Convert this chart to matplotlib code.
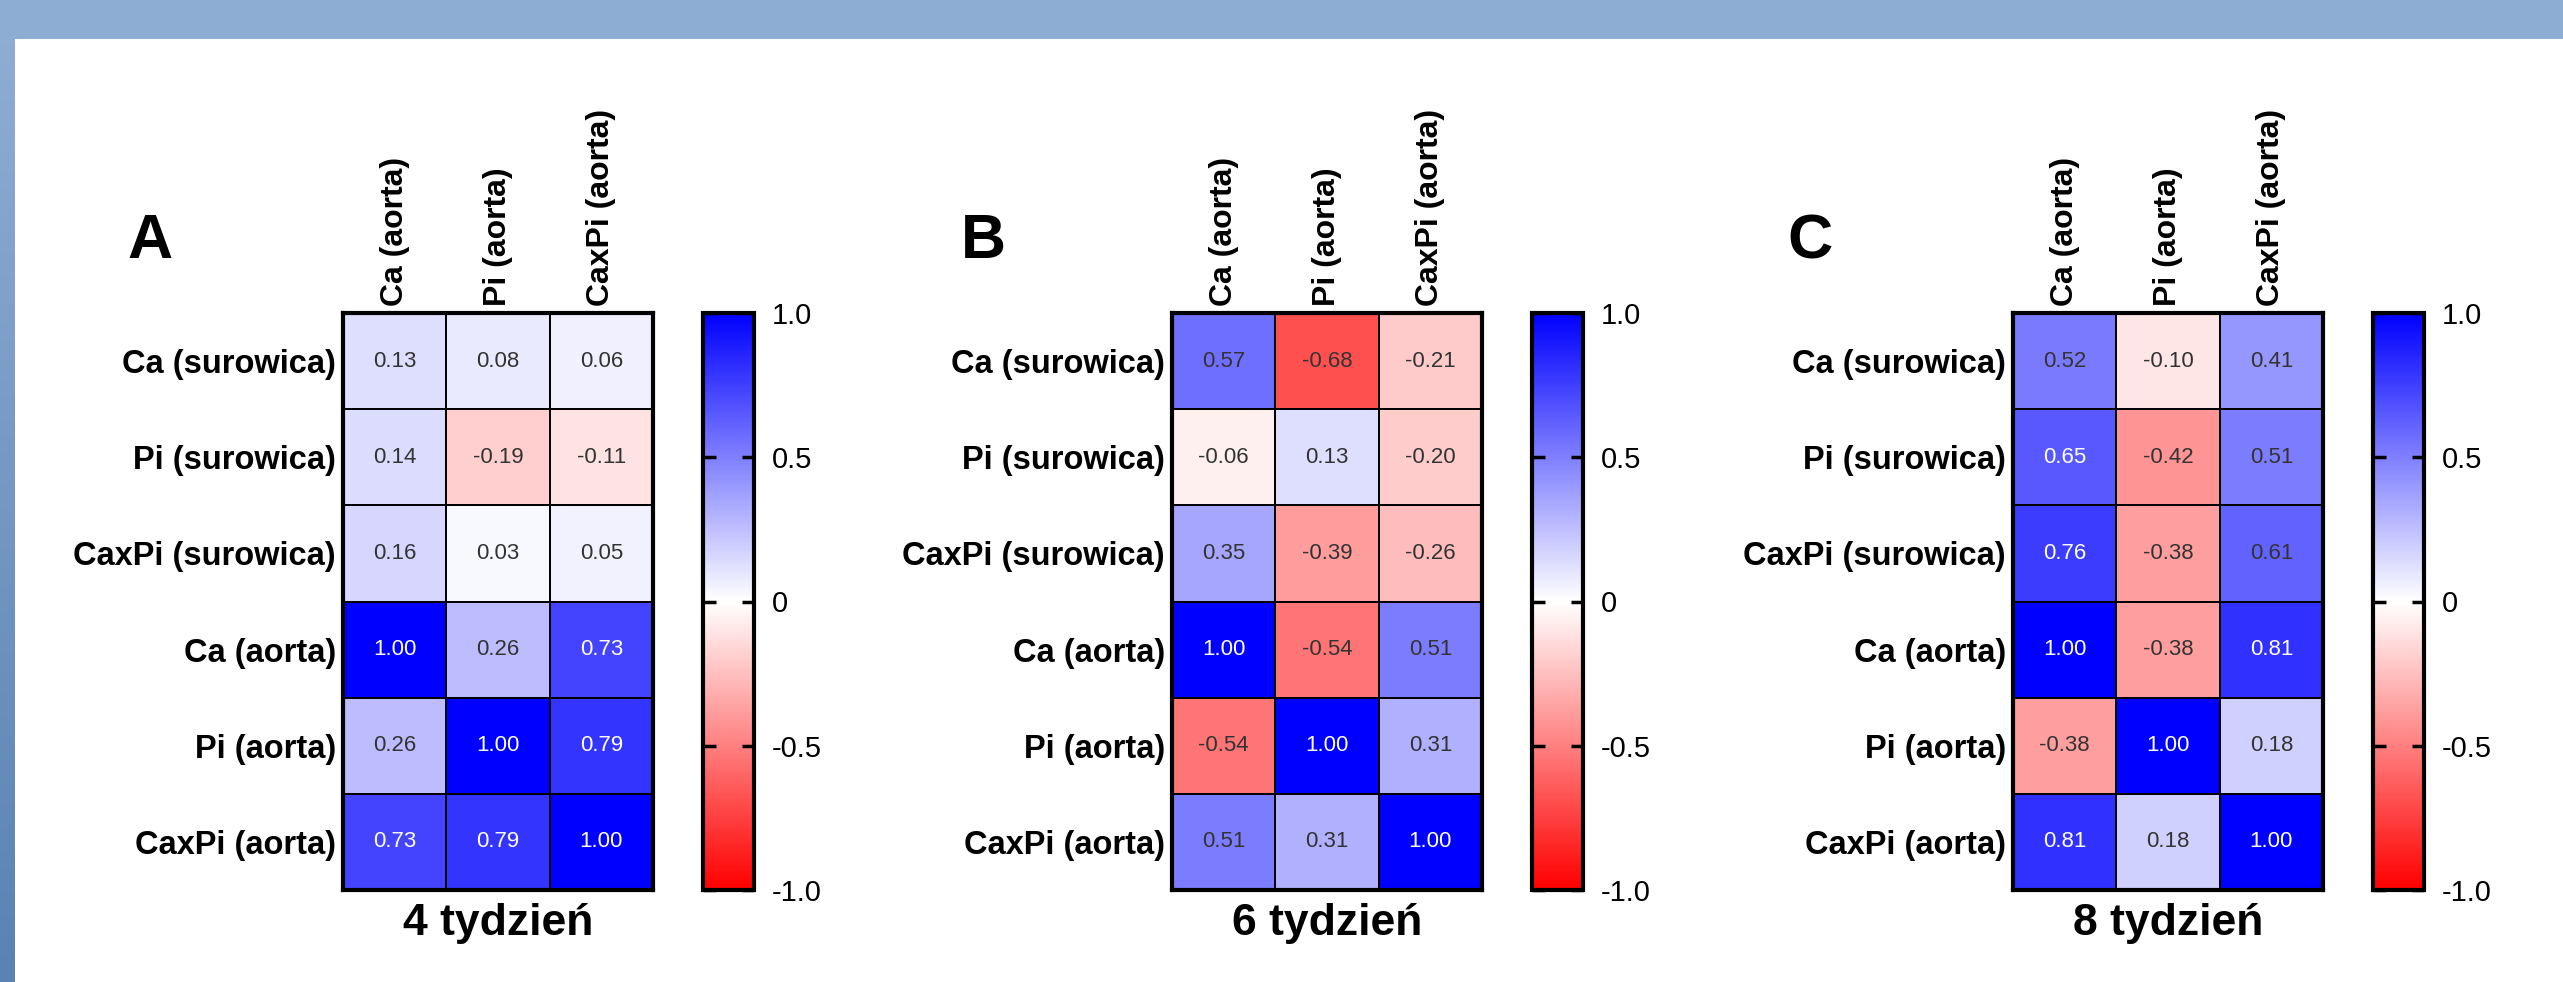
import matplotlib
matplotlib.use('Agg')
import matplotlib.pyplot as plt
import numpy as np
from matplotlib.colors import LinearSegmentedColormap
from matplotlib.patches import Rectangle

plt.rcParams['font.family'] = ['Liberation Sans', 'DejaVu Sans']

####################### DATA ###############################
row_labels = ['Ca (surowica)', 'Pi (surowica)', 'CaxPi (surowica)',
              'Ca (aorta)', 'Pi (aorta)', 'CaxPi (aorta)']
col_labels = ['Ca (aorta)', 'Pi (aorta)', 'CaxPi (aorta)']
panel_letters = ['A', 'B', 'C']
week_titles = ['4 tydzień', '6 tydzień', '8 tydzień']

corr_week4 = [[0.13, 0.08, 0.06],
              [0.14, -0.19, -0.11],
              [0.16, 0.03, 0.05],
              [1.00, 0.26, 0.73],
              [0.26, 1.00, 0.79],
              [0.73, 0.79, 1.00]]

corr_week6 = [[0.57, -0.68, -0.21],
              [-0.06, 0.13, -0.20],
              [0.35, -0.39, -0.26],
              [1.00, -0.54, 0.51],
              [-0.54, 1.00, 0.31],
              [0.51, 0.31, 1.00]]

corr_week8 = [[0.52, -0.10, 0.41],
              [0.65, -0.42, 0.51],
              [0.76, -0.38, 0.61],
              [1.00, -0.38, 0.81],
              [-0.38, 1.00, 0.18],
              [0.81, 0.18, 1.00]]

cbar_ticks = [-1.0, -0.5, 0, 0.5, 1.0]
cbar_ticklabels = ['-1.0', '-0.5', '0', '0.5', '1.0']

####################### LAYOUT ###############################
W, H = 2563, 982
heat_left = [343, 1172, 2013]   # px, left edge of each heatmap
letter_x = [127, 961, 1787]     # px, left edge of panel letters
heat_top, heat_w, heat_h = 313, 310, 577
cbar_gap, cbar_w = 50, 51

cmap = LinearSegmentedColormap.from_list('rwb', ['#FF0000', '#FFFFFF', '#0000FF'])


def box(x, y_top, w, h):
    # pixel box (from top-left) -> figure fraction
    return [x / W, 1 - (y_top + h) / H, w / W, h / H]


fig = plt.figure(figsize=(W / 100, H / 100), dpi=100)
fig.patch.set_facecolor('#8DADD3')

# white slide area
fig.add_artist(Rectangle((15 / W, 0), 1, (H - 39) / H, transform=fig.transFigure,
                         facecolor='white', edgecolor='none', zorder=0))
# darker gradient strip on the left
strip = fig.add_axes(box(0, 39, 15, H - 39))
strip.imshow(np.linspace(0, 1, 200).reshape(-1, 1), aspect='auto',
             cmap=LinearSegmentedColormap.from_list('strip', ['#8DADD3', '#5B82B3']))
strip.axis('off')

all_data = [corr_week4, corr_week6, corr_week8]

for k in range(3):
    data = np.array(all_data[k])
    L = heat_left[k]

    ax = fig.add_axes(box(L, heat_top, heat_w, heat_h))
    mesh = ax.pcolormesh(data, cmap=cmap, vmin=-1, vmax=1,
                         edgecolors='black', linewidth=1.3)
    ax.set_xlim(0, 3)
    ax.set_ylim(6, 0)

    for i in range(data.shape[0]):
        for j in range(data.shape[1]):
            v = data[i, j]
            ax.text(j + 0.5, i + 0.5, f'{v:.2f}', ha='center', va='center',
                    fontsize=16, color='white' if v >= 0.63 else '#333333')

    ax.set_yticks(np.arange(6) + 0.5)
    ax.set_yticklabels(row_labels, fontsize=23.5, fontweight='bold')
    ax.xaxis.tick_top()
    ax.set_xticks(np.arange(3) + 0.5)
    ax.set_xticklabels(col_labels, fontsize=23, fontweight='bold', rotation=90)
    ax.tick_params(length=0, pad=5)
    for s in ax.spines.values():
        s.set_linewidth(3)

    # colorbar
    cax = fig.add_axes(box(L + heat_w + cbar_gap, heat_top, cbar_w, heat_h))
    cb = fig.colorbar(mesh, cax=cax, ticks=cbar_ticks)
    cb.set_ticklabels(cbar_ticklabels)
    cb.outline.set_linewidth(3)
    cax.tick_params(direction='in', left=True, right=True, length=9, width=2.5,
                    labelsize=21, pad=13)

    # panel letter and week title
    fig.text(letter_x[k] / W, 1 - 258 / H, panel_letters[k], fontsize=45,
             fontweight='bold', ha='left', va='baseline')
    fig.text((L + heat_w / 2) / W, 1 - 935 / H, week_titles[k], fontsize=32,
             fontweight='bold', ha='center', va='baseline')

fig.savefig('out.png', dpi=100, facecolor=fig.get_facecolor())
